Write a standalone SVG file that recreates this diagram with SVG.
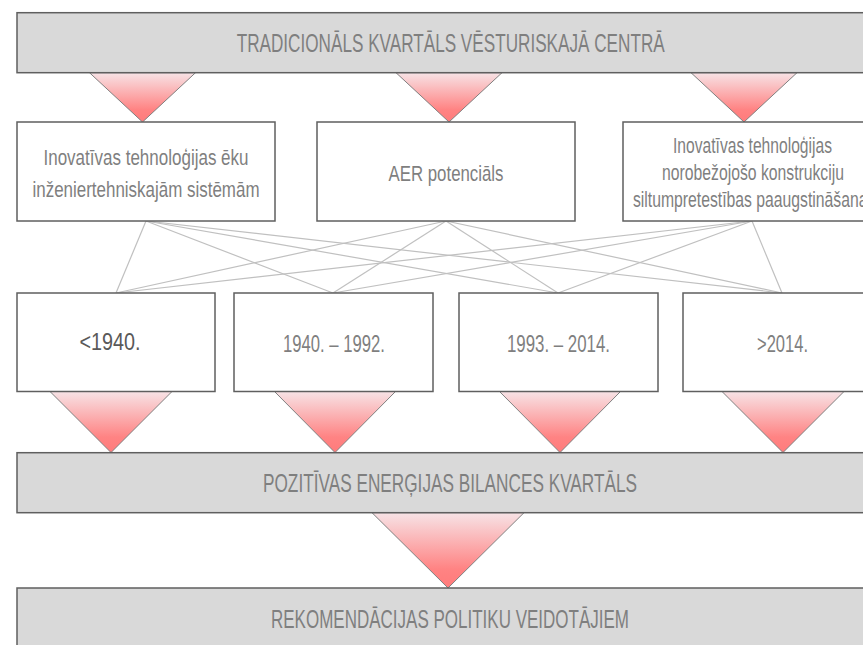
<svg xmlns="http://www.w3.org/2000/svg" width="863" height="645" viewBox="0 0 863 645">
<style>
.bar{fill:#d9d9d9;stroke:#5f5f5f;stroke-width:1.5}
.box{fill:#ffffff;stroke:#5f5f5f;stroke-width:1.5}
.tri{fill:url(#g);stroke:#808080;stroke-width:1}
.con{stroke:#c0c0c0;stroke-width:1.2;fill:none}
text{font-family:"Liberation Sans",Arial,sans-serif;fill:#7f7f7f;text-anchor:middle}
.bt{font-size:25px}
.nt{font-size:22px}
.yt{font-size:23px}
</style>
<defs>
<linearGradient id="g" x1="0" y1="0" x2="0" y2="1">
<stop offset="0" stop-color="#f7e3e6"/>
<stop offset="0.75" stop-color="#ff8383"/>
<stop offset="1" stop-color="#ff7b7b"/>
</linearGradient>
</defs>
<rect width="863" height="645" fill="#ffffff"/>

<g id="connectors">
<line class="con" x1="146" y1="221" x2="116" y2="293"/>
<line class="con" x1="146" y1="221" x2="333" y2="293"/>
<line class="con" x1="146" y1="221" x2="558" y2="293"/>
<line class="con" x1="146" y1="221" x2="782" y2="293"/>
<line class="con" x1="446" y1="221" x2="116" y2="293"/>
<line class="con" x1="446" y1="221" x2="333" y2="293"/>
<line class="con" x1="446" y1="221" x2="558" y2="293"/>
<line class="con" x1="446" y1="221" x2="782" y2="293"/>
<line class="con" x1="752" y1="221" x2="116" y2="293"/>
<line class="con" x1="752" y1="221" x2="333" y2="293"/>
<line class="con" x1="752" y1="221" x2="558" y2="293"/>
<line class="con" x1="752" y1="221" x2="782" y2="293"/>
</g>

<g id="arrows">
<polygon class="tri" points="89.5,72.7 195.5,72.7 142.5,122"/>
<polygon class="tri" points="396,72.7 502,72.7 449,122"/>
<polygon class="tri" points="691,72.7 797,72.7 744,122"/>
<polygon class="tri" points="50,391.5 172,391.5 111,452.5"/>
<polygon class="tri" points="274.5,391.5 395.5,391.5 335,452.5"/>
<polygon class="tri" points="499.5,391.5 620.5,391.5 560,452.5"/>
<polygon class="tri" points="722,391.5 844,391.5 783,452.5"/>
<polygon class="tri" points="372,512.7 524,512.7 448,588"/>
</g>

<g id="top">
<rect class="bar" x="17" y="12.7" width="870" height="60"/>
<text class="bt" x="450.7" y="51.7" textLength="428" lengthAdjust="spacingAndGlyphs">TRADICIONĀLS KVARTĀLS VĒSTURISKAJĀ CENTRĀ</text>
</g>

<g id="n1">
<rect class="box" x="17" y="122" width="258" height="99"/>
<text class="nt" x="146" y="165" textLength="205" lengthAdjust="spacingAndGlyphs">Inovatīvas tehnoloģijas ēku</text>
<text class="nt" x="146" y="196.5" textLength="227" lengthAdjust="spacingAndGlyphs">inženiertehniskajām sistēmām</text>
</g>
<g id="n2">
<rect class="box" x="317" y="122" width="258" height="99"/>
<text class="nt" x="446" y="180.5" textLength="115" lengthAdjust="spacingAndGlyphs">AER potenciāls</text>
</g>
<g id="n3">
<rect class="box" x="623" y="122" width="258" height="99"/>
<text class="nt" x="752.5" y="152.7" textLength="159" lengthAdjust="spacingAndGlyphs">Inovatīvas tehnoloģijas</text>
<text class="nt" x="753" y="180" textLength="182" lengthAdjust="spacingAndGlyphs">norobežojošo konstrukciju</text>
<text class="nt" x="752" y="206.7" textLength="238" lengthAdjust="spacingAndGlyphs">siltumpretestības paaugstināšanai</text>
</g>

<g id="p1">
<rect class="box" x="17" y="293" width="198" height="98.5"/>
<text class="yt" x="110" y="350" textLength="61" lengthAdjust="spacingAndGlyphs" style="fill:#595959">&lt;1940.</text>
</g>
<g id="p2">
<rect class="box" x="234" y="293" width="199" height="98.5"/>
<text class="yt" x="334" y="351.5" textLength="102" lengthAdjust="spacingAndGlyphs">1940. – 1992.</text>
</g>
<g id="p3">
<rect class="box" x="459" y="293" width="199" height="98.5"/>
<text class="yt" x="558.5" y="351.5" textLength="103" lengthAdjust="spacingAndGlyphs">1993. – 2014.</text>
</g>
<g id="p4">
<rect class="box" x="683" y="293" width="199" height="98.5"/>
<text class="yt" x="782.5" y="351.5" textLength="51" lengthAdjust="spacingAndGlyphs">&gt;2014.</text>
</g>

<g id="mid">
<rect class="bar" x="17" y="452.7" width="870" height="60"/>
<text class="bt" x="450" y="491.7" textLength="374" lengthAdjust="spacingAndGlyphs">POZITĪVAS ENERĢIJAS BILANCES KVARTĀLS</text>
</g>

<g id="bottom">
<rect class="bar" x="17" y="588" width="870" height="60"/>
<text class="bt" x="450" y="627.5" textLength="358" lengthAdjust="spacingAndGlyphs">REKOMENDĀCIJAS POLITIKU VEIDOTĀJIEM</text>
</g>
</svg>
